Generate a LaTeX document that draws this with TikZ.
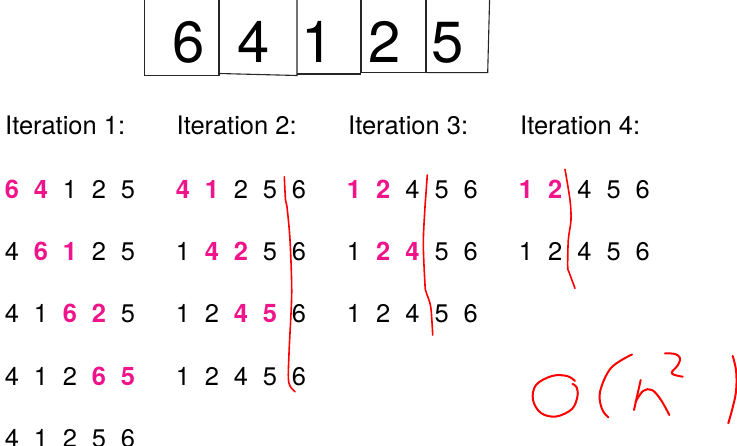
\documentclass[tikz,border=0pt]{standalone}
\usepackage{fontspec}
\setmainfont{TeX Gyre Heros}
\definecolor{hotpink}{RGB}{240,20,138}
\definecolor{inkred}{RGB}{255,0,0}
\begin{document}
\begin{tikzpicture}[x=1pt,y=-1pt,
  boxline/.style={draw=black!85,line width=1.1pt},
  bigdigit/.style={inner sep=0pt,font=\fontsize{58}{58}\selectfont},
  header/.style={inner sep=0pt,anchor=base west,font=\fontsize{25.5}{25.5}\selectfont},
  nm/.style={inner sep=0pt,font=\fontsize{25.5}{25.5}\selectfont},
  hl/.style={inner sep=0pt,text=hotpink,font=\fontsize{25.5}{25.5}\selectfont\bfseries},
  pen/.style={draw=inkred,line width=1.6pt,line cap=round,line join=round},
  hand/.style={draw=inkred,line width=2pt,line cap=round,line join=round}]
\useasboundingbox (0,0) rectangle (737,446);
\begin{scope}
\clip (0,0) rectangle (737,446);
% top array boxes
\draw[boxline] (144.5,-5) -- (144.5,75.7) -- (219,75.7) -- (219,-5);
\draw[boxline] (219,73.5) -- (297,75.5) -- (297,-5);
\draw[boxline] (297,74) -- (361,74);
\draw[boxline] (361,-5) -- (361,72.7) -- (426,72.7) -- (426,-5);
\draw[boxline] (426,72.7) -- (487.7,72.7) -- (489.7,-5);
\end{scope}
\node[bigdigit] (b1) at (189,42.4) {6};
\node[bigdigit] (b2) at (254,42.4) {4};
\node[bigdigit] (b3) at (318,42.4) {1};
\node[bigdigit] (b4) at (385,42.4) {2};
\node[bigdigit] (b5) at (448,42.4) {5};
% headers
\node[header] (h1) at (5,135) {Iteration 1:};
\node[header] (h2) at (176.5,135) {Iteration 2:};
\node[header] (h3) at (348,135) {Iteration 3:};
\node[header] (h4) at (520,135) {Iteration 4:};
% iteration 1
\foreach \d/\s [count=\k from 0] in {6/hl,4/hl,1/nm,2/nm,5/nm}
  \node[\s] (a1r1c\k) at ({12+29*\k},189.5) {\d};
\foreach \d/\s [count=\k from 0] in {4/nm,6/hl,1/hl,2/nm,5/nm}
  \node[\s] (a1r2c\k) at ({12+29*\k},251.5) {\d};
\foreach \d/\s [count=\k from 0] in {4/nm,1/nm,6/hl,2/hl,5/nm}
  \node[\s] (a1r3c\k) at ({12+29*\k},313.5) {\d};
\foreach \d/\s [count=\k from 0] in {4/nm,1/nm,2/nm,6/hl,5/hl}
  \node[\s] (a1r4c\k) at ({12+29*\k},376.5) {\d};
\foreach \d/\s [count=\k from 0] in {4/nm,1/nm,2/nm,5/nm,6/nm}
  \node[\s] (a1r5c\k) at ({12+29*\k},438.5) {\d};
% iteration 2
\foreach \d/\s [count=\k from 0] in {4/hl,1/hl,2/nm,5/nm,6/nm}
  \node[\s] (a2r1c\k) at ({183+29*\k},189.5) {\d};
\foreach \d/\s [count=\k from 0] in {1/nm,4/hl,2/hl,5/nm,6/nm}
  \node[\s] (a2r2c\k) at ({183+29*\k},251.5) {\d};
\foreach \d/\s [count=\k from 0] in {1/nm,2/nm,4/hl,5/hl,6/nm}
  \node[\s] (a2r3c\k) at ({183+29*\k},313.5) {\d};
\foreach \d/\s [count=\k from 0] in {1/nm,2/nm,4/nm,5/nm,6/nm}
  \node[\s] (a2r4c\k) at ({183+29*\k},376.5) {\d};
% iteration 3
\foreach \d/\s [count=\k from 0] in {1/hl,2/hl,4/nm,5/nm,6/nm}
  \node[\s] (a3r1c\k) at ({354+29.2*\k},189.5) {\d};
\foreach \d/\s [count=\k from 0] in {1/nm,2/hl,4/hl,5/nm,6/nm}
  \node[\s] (a3r2c\k) at ({354+29.2*\k},251.5) {\d};
\foreach \d/\s [count=\k from 0] in {1/nm,2/nm,4/nm,5/nm,6/nm}
  \node[\s] (a3r3c\k) at ({354+29.2*\k},313.5) {\d};
% iteration 4
\foreach \d/\s [count=\k from 0] in {1/hl,2/hl,4/nm,5/nm,6/nm}
  \node[\s] (a4r1c\k) at ({526+29.2*\k},189.5) {\d};
\foreach \d/\s [count=\k from 0] in {1/nm,2/nm,4/nm,5/nm,6/nm}
  \node[\s] (a4r2c\k) at ({526+29.2*\k},251.5) {\d};
% red partition lines
\draw[pen] plot[smooth,tension=0.5] coordinates {(284.3,176.7) (285.5,200) (287,207) (290,240) (291.7,293) (289.3,346.7) (288.3,376.7) (290,386) (295,391.7)};
\draw[pen] plot[smooth,tension=0.5] coordinates {(427.3,175) (425.5,200) (425,207) (423.3,243.3) (425,285) (426,291.7) (430.7,306.7) (432.7,335)};
\draw[pen] plot[smooth,tension=0.5] coordinates {(565,169.3) (570,200) (571,220) (568.3,240) (567.7,266.7) (569,272) (575,288.3)};
% O(n^2)
\draw[hand] plot[smooth,tension=0.6] coordinates {(572.5,384) (576.5,387) (577.5,396) (572,409) (556,416.5) (541,413) (533,400) (536,385) (552,376) (567,376) (575,381)};
\draw[hand] plot[smooth,tension=0.6] coordinates {(632,354.5) (611,368) (600,392) (602,409) (608.5,417.5)};
\draw[hand] (640.7,380) -- (634,410);
\draw[hand] plot[smooth,tension=0.6] coordinates {(635.5,402) (643,391) (652,390) (661,400) (669.3,415)};
\draw[hand] plot[smooth,tension=0.6] coordinates {(665,353.3) (675,354) (680,358) (678,365) (671.7,373.3) (682.7,376.7)};
\draw[hand] plot[smooth,tension=0.6] coordinates {(732.7,356) (736.2,372) (735.5,395) (728.3,423.3)};
\end{tikzpicture}
\end{document}
